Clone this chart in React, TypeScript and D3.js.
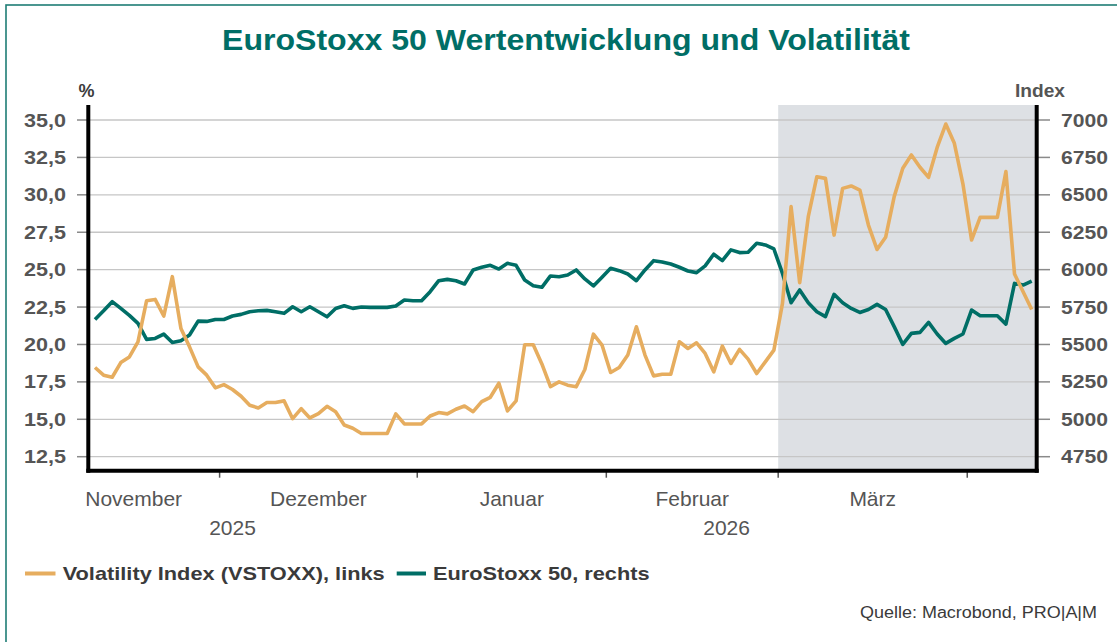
import * as d3 from 'd3';

// VSTOXX (left axis, %) – one value per trading day, 10.11.2025 .. 10.04.2026
const vstoxx = [
  18.46, 17.95, 17.81, 18.79, 19.17, 20.18, 22.92, 23.01, 21.9, 24.53,
  21.07, 19.84, 18.5, 17.95, 17.1, 17.32, 16.99, 16.54, 15.94, 15.76,
  16.12, 16.12, 16.23, 15.04, 15.71, 15.09, 15.38, 15.87, 15.51, 14.62,
  14.4, 14.05, 14.05, 14.05, 14.05, 15.36, 14.69, 14.69, 14.69, 15.22,
  15.45, 15.36, 15.67, 15.89, 15.51, 16.18, 16.47, 17.41, 15.56, 16.23,
  19.98, 19.98, 18.7, 17.18, 17.5, 17.28, 17.17, 18.33, 20.69, 19.96,
  18.13, 18.46, 19.29, 21.18, 19.29, 17.9, 18.01, 18.01, 20.18, 19.73,
  20.11, 19.4, 18.17, 19.89, 18.73, 19.67, 19.02, 18.06, 18.84, 19.62,
  22.75, 29.21, 24.13, 28.54, 31.21, 31.1, 27.31, 30.43, 30.59, 30.32,
  27.98, 26.35, 27.16, 29.88, 31.77, 32.66, 31.84, 31.17, 33.17, 34.73,
  33.44, 30.72, 26.98, 28.49, 28.49, 28.49, 31.55, 24.71, 23.52, 22.34,
];

// EuroStoxx 50 (right axis, index points)
const eurostoxx = [
  5667, 5725, 5786, 5741, 5694, 5641, 5534, 5540, 5569, 5513,
  5525, 5563, 5656, 5654, 5667, 5667, 5690, 5701, 5719, 5725,
  5728, 5719, 5708, 5752, 5719, 5752, 5719, 5685, 5740, 5759,
  5741, 5750, 5748, 5748, 5748, 5757, 5797, 5792, 5792, 5853,
  5926, 5935, 5926, 5904, 5998, 6016, 6029, 6004, 6042, 6029,
  5931, 5893, 5882, 5958, 5953, 5964, 5998, 5938, 5891, 5949,
  6009, 5993, 5971, 5926, 5998, 6060, 6051, 6038, 6016, 5991,
  5980, 6025, 6103, 6060, 6132, 6114, 6116, 6176, 6165, 6138,
  5975, 5779, 5864, 5779, 5719, 5686, 5835, 5779, 5741, 5714,
  5734, 5768, 5734, 5619, 5500, 5574, 5581, 5648, 5570, 5507,
  5541, 5570, 5730, 5692, 5692, 5692, 5636, 5908, 5897, 5924,
];

// x axis: month boundaries and label centres in trading-day index units
const monthTicks = [14.5, 37.5, 59.5, 79.5, 101.5];
const months = ['November', 'Dezember', 'Januar', 'Februar', 'März'];
const monthCenters = [4.5, 26, 48.5, 69.5, 90.5];
const years = ['2025', '2026'];
const yearCenters = [16, 73.5];
const shadeFrom = 79.5; // ab 1. März

const leftTicks = [12.5, 15, 17.5, 20, 22.5, 25, 27.5, 30, 32.5, 35];
const rightTicks = [4750, 5000, 5250, 5500, 5750, 6000, 6250, 6500, 6750, 7000];

const W = 1117;
const H = 642;
const plot = { left: 88.3, right: 1036.7, top: 105, bottom: 470.7 };

const TEAL = '#006e66';
const ORANGE = '#e6ad5f';
const FONT = '"Liberation Sans", Arial, Helvetica, sans-serif';

const de = d3.formatLocale({ decimal: ',', thousands: '.', grouping: [3], currency: ['', ' €'] });
const fmtLeft = de.format('.1f');
const fmtRight = d3.format('d');

export default function App() {
  const x = d3.scaleLinear().domain([0, vstoxx.length - 1]).range([95, 1031.7]);
  const yL = d3.scaleLinear().domain([12.5, 35]).range([456.7, 120]);
  const yR = d3.scaleLinear().domain([4750, 7000]).range([456.7, 120]);

  const lineL = d3
    .line<number>()
    .x((_, i) => x(i))
    .y((d) => yL(d));
  const lineR = d3
    .line<number>()
    .x((_, i) => x(i))
    .y((d) => yR(d));

  return (
    <svg
      width={W}
      height={H}
      style={{ position: 'absolute', left: 0, top: 0, background: '#fff' }}
      fontFamily={FONT}
    >
      <rect x={6} y={5} width={1300} height={800} fill="#fff" stroke="#1f7d75" strokeWidth={1.6} />

      <text
        x={566}
        y={50}
        textAnchor="middle"
        fontSize={29}
        fontWeight="bold"
        fill={TEAL}
        textLength={688}
        lengthAdjust="spacingAndGlyphs"
      >
        EuroStoxx 50 Wertentwicklung und Volatilität
      </text>

      {/* shaded period */}
      <rect
        x={x(shadeFrom)}
        y={plot.top}
        width={plot.right - x(shadeFrom)}
        height={plot.bottom - plot.top}
        fill="#dde0e4"
      />

      {/* grid */}
      {leftTicks.map((t) => (
        <line key={t} x1={plot.left} x2={plot.right} y1={yL(t)} y2={yL(t)} stroke="#c6c6c6" strokeWidth={1.3} />
      ))}

      {/* y ticks + labels */}
      {leftTicks.map((t) => (
        <g key={'l' + t}>
          <line x1={77} x2={plot.left} y1={yL(t)} y2={yL(t)} stroke="#8a8a8a" strokeWidth={1.5} />
          <text
            x={66}
            y={yL(t) + 6.5}
            textAnchor="end"
            fontSize={18}
            fontWeight="bold"
            fill="#555"
            textLength={42}
            lengthAdjust="spacingAndGlyphs"
          >
            {fmtLeft(t)}
          </text>
        </g>
      ))}
      {rightTicks.map((t) => (
        <g key={'r' + t}>
          <line x1={plot.right} x2={1050} y1={yR(t)} y2={yR(t)} stroke="#8a8a8a" strokeWidth={1.5} />
          <text
            x={1061}
            y={yR(t) + 6.5}
            fontSize={18}
            fontWeight="bold"
            fill="#555"
            textLength={47}
            lengthAdjust="spacingAndGlyphs"
          >
            {fmtRight(t)}
          </text>
        </g>
      ))}
      <text x={86.5} y={97} textAnchor="middle" fontSize={18} fontWeight="bold" fill="#3c3c3c">
        %
      </text>
      <text
        x={1065}
        y={97}
        textAnchor="end"
        fontSize={18}
        fontWeight="bold"
        fill="#555"
        textLength={50}
        lengthAdjust="spacingAndGlyphs"
      >
        Index
      </text>

      {/* x ticks + labels */}
      {monthTicks.map((t) => (
        <line key={t} x1={x(t)} x2={x(t)} y1={plot.bottom} y2={plot.bottom + 7} stroke="#555" strokeWidth={1.5} />
      ))}
      {months.map((m, i) => (
        <text key={m} x={x(monthCenters[i])} y={506} textAnchor="middle" fontSize={21} fill="#555">
          {m}
        </text>
      ))}
      {years.map((yv, i) => (
        <text key={yv} x={x(yearCenters[i])} y={535} textAnchor="middle" fontSize={21} fill="#555">
          {yv}
        </text>
      ))}

      {/* series */}
      <path d={lineR(eurostoxx) ?? ''} fill="none" stroke={TEAL} strokeWidth={3.6} strokeLinejoin="round" />
      <path d={lineL(vstoxx) ?? ''} fill="none" stroke={ORANGE} strokeWidth={3.6} strokeLinejoin="round" />

      {/* axes */}
      <line x1={plot.left} x2={plot.left} y1={plot.top} y2={plot.bottom + 2} stroke="#000" strokeWidth={4} />
      <line x1={plot.right} x2={plot.right} y1={plot.top} y2={plot.bottom + 2} stroke="#000" strokeWidth={4} />
      <line x1={plot.left - 2} x2={plot.right + 2} y1={plot.bottom} y2={plot.bottom} stroke="#000" strokeWidth={4} />

      {/* legend */}
      <line x1={25} x2={55.5} y1={573.5} y2={573.5} stroke={ORANGE} strokeWidth={4} />
      <text
        x={62.7}
        y={579.5}
        fontSize={17.7}
        fontWeight="bold"
        fill="#3a3a3a"
        textLength={322}
        lengthAdjust="spacingAndGlyphs"
      >
        Volatility Index (VSTOXX), links
      </text>
      <line x1={396.7} x2={426} y1={573.5} y2={573.5} stroke={TEAL} strokeWidth={4} />
      <text
        x={433}
        y={579.5}
        fontSize={17.7}
        fontWeight="bold"
        fill="#3a3a3a"
        textLength={216.6}
        lengthAdjust="spacingAndGlyphs"
      >
        EuroStoxx 50, rechts
      </text>

      <text
        x={1097}
        y={617.5}
        textAnchor="end"
        fontSize={16}
        fill="#3a3a3a"
        textLength={237}
        lengthAdjust="spacingAndGlyphs"
      >
        Quelle: Macrobond, PRO|A|M
      </text>
    </svg>
  );
}
